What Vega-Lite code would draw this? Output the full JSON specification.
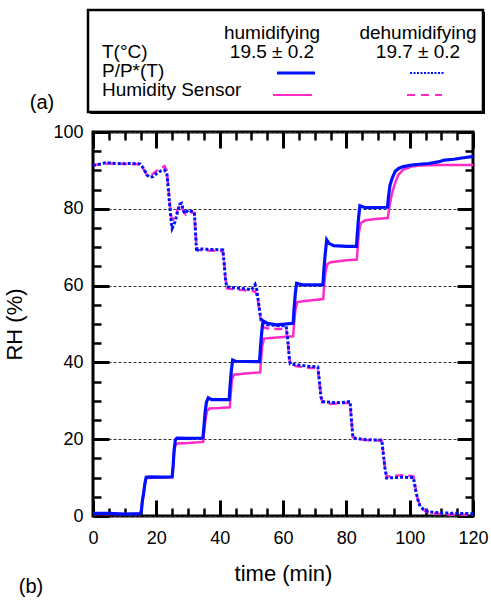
{
  "$schema": "https://vega.github.io/schema/vega-lite/v6.json",
  "autosize": {"type": "none"},
  "width": 380,
  "height": 384,
  "padding": {"left": 93, "top": 132, "right": 18, "bottom": 85},
  "background": "white",
  "config": {
    "font": "Liberation Sans",
    "view": {"stroke": "black", "strokeWidth": 3},
    "axis": {"labelFont": "Liberation Sans", "titleFont": "Liberation Sans", "labelColor": "black", "titleColor": "black", "tickColor": "black", "domain": false, "grid": false}
  },
  "datasets": {
    "curves": [
      {"s":"hum_P","t":0,"rh":0.7},{"s":"hum_P","t":5,"rh":0.7},{"s":"hum_P","t":10,"rh":0.5},{"s":"hum_P","t":15,"rh":0.6},{"s":"hum_P","t":15.3,"rh":1.5},{"s":"hum_P","t":15.6,"rh":4},{"s":"hum_P","t":16,"rh":6},{"s":"hum_P","t":16.4,"rh":8.5},{"s":"hum_P","t":16.8,"rh":10.1},{"s":"hum_P","t":18,"rh":10.2},{"s":"hum_P","t":22,"rh":10.1},{"s":"hum_P","t":25,"rh":10.2},{"s":"hum_P","t":25.3,"rh":13},{"s":"hum_P","t":25.6,"rh":17},{"s":"hum_P","t":26,"rh":19.8},{"s":"hum_P","t":26.5,"rh":20.3},{"s":"hum_P","t":30,"rh":20.2},{"s":"hum_P","t":34.7,"rh":20.3},{"s":"hum_P","t":35,"rh":23},{"s":"hum_P","t":35.4,"rh":27},{"s":"hum_P","t":35.8,"rh":29.5},{"s":"hum_P","t":36.4,"rh":30.8},{"s":"hum_P","t":37.5,"rh":30.3},{"s":"hum_P","t":43,"rh":30.3},{"s":"hum_P","t":43.3,"rh":34},{"s":"hum_P","t":43.7,"rh":38},{"s":"hum_P","t":44.1,"rh":40.6},{"s":"hum_P","t":45,"rh":40.3},{"s":"hum_P","t":52.6,"rh":40.2},{"s":"hum_P","t":52.9,"rh":44},{"s":"hum_P","t":53.3,"rh":48},{"s":"hum_P","t":53.7,"rh":50.8},{"s":"hum_P","t":55,"rh":50.2},{"s":"hum_P","t":58,"rh":49.8},{"s":"hum_P","t":63.2,"rh":50.2},{"s":"hum_P","t":63.5,"rh":54},{"s":"hum_P","t":63.9,"rh":58},{"s":"hum_P","t":64.3,"rh":60.6},{"s":"hum_P","t":66,"rh":60.2},{"s":"hum_P","t":72.6,"rh":60.2},{"s":"hum_P","t":72.9,"rh":64},{"s":"hum_P","t":73.3,"rh":68},{"s":"hum_P","t":73.8,"rh":71.9},{"s":"hum_P","t":74.5,"rh":71},{"s":"hum_P","t":76,"rh":70.4},{"s":"hum_P","t":80,"rh":70.2},{"s":"hum_P","t":83.2,"rh":70.2},{"s":"hum_P","t":83.5,"rh":74},{"s":"hum_P","t":83.9,"rh":78},{"s":"hum_P","t":84.3,"rh":80.8},{"s":"hum_P","t":86,"rh":80.3},{"s":"hum_P","t":93,"rh":80.4},{"s":"hum_P","t":93.3,"rh":83},{"s":"hum_P","t":93.8,"rh":86.2},{"s":"hum_P","t":94.5,"rh":88},{"s":"hum_P","t":95.4,"rh":89.7},{"s":"hum_P","t":96.5,"rh":90.5},{"s":"hum_P","t":98,"rh":91},{"s":"hum_P","t":100.6,"rh":91.4},{"s":"hum_P","t":103,"rh":91.6},{"s":"hum_P","t":106,"rh":91.8},{"s":"hum_P","t":109,"rh":92.2},{"s":"hum_P","t":111,"rh":92.7},{"s":"hum_P","t":114,"rh":92.9},{"s":"hum_P","t":117,"rh":93.3},{"s":"hum_P","t":119.6,"rh":93.6},{"s":"hum_P","t":120,"rh":93.5},
      {"s":"hum_S","t":0,"rh":0.5},{"s":"hum_S","t":15,"rh":0.5},{"s":"hum_S","t":15.3,"rh":1.5},{"s":"hum_S","t":15.6,"rh":4},{"s":"hum_S","t":16,"rh":6},{"s":"hum_S","t":16.4,"rh":8.5},{"s":"hum_S","t":16.8,"rh":9.9},{"s":"hum_S","t":20,"rh":10},{"s":"hum_S","t":25,"rh":10},{"s":"hum_S","t":25.3,"rh":13},{"s":"hum_S","t":25.6,"rh":16.5},{"s":"hum_S","t":26,"rh":18.5},{"s":"hum_S","t":26.8,"rh":18.9},{"s":"hum_S","t":30,"rh":19},{"s":"hum_S","t":34.8,"rh":19.3},{"s":"hum_S","t":35.1,"rh":22},{"s":"hum_S","t":35.5,"rh":25},{"s":"hum_S","t":36,"rh":27.3},{"s":"hum_S","t":36.8,"rh":28},{"s":"hum_S","t":40,"rh":28.1},{"s":"hum_S","t":43.2,"rh":28.3},{"s":"hum_S","t":43.5,"rh":32},{"s":"hum_S","t":43.9,"rh":35.5},{"s":"hum_S","t":44.5,"rh":36.8},{"s":"hum_S","t":48,"rh":37.1},{"s":"hum_S","t":52.8,"rh":37.4},{"s":"hum_S","t":53.1,"rh":41},{"s":"hum_S","t":53.5,"rh":44.5},{"s":"hum_S","t":54,"rh":46.2},{"s":"hum_S","t":57,"rh":46.4},{"s":"hum_S","t":63.2,"rh":46.8},{"s":"hum_S","t":63.5,"rh":50},{"s":"hum_S","t":63.9,"rh":53.5},{"s":"hum_S","t":64.5,"rh":55.7},{"s":"hum_S","t":67,"rh":56},{"s":"hum_S","t":72.7,"rh":56.5},{"s":"hum_S","t":73,"rh":60},{"s":"hum_S","t":73.4,"rh":63.5},{"s":"hum_S","t":74,"rh":65.6},{"s":"hum_S","t":75,"rh":66.1},{"s":"hum_S","t":80,"rh":66.6},{"s":"hum_S","t":83.3,"rh":66.8},{"s":"hum_S","t":83.6,"rh":70},{"s":"hum_S","t":84,"rh":74},{"s":"hum_S","t":84.6,"rh":76.3},{"s":"hum_S","t":86,"rh":77},{"s":"hum_S","t":90,"rh":77.4},{"s":"hum_S","t":93.1,"rh":77.6},{"s":"hum_S","t":93.5,"rh":80},{"s":"hum_S","t":94.3,"rh":83.6},{"s":"hum_S","t":95.3,"rh":86.5},{"s":"hum_S","t":96.4,"rh":88.8},{"s":"hum_S","t":98,"rh":90.2},{"s":"hum_S","t":100.6,"rh":91},{"s":"hum_S","t":103,"rh":91.3},{"s":"hum_S","t":110,"rh":91.4},{"s":"hum_S","t":120,"rh":91.4},
      {"s":"dehum_P","t":0,"rh":91.3},{"s":"dehum_P","t":2,"rh":91.6},{"s":"dehum_P","t":4,"rh":92},{"s":"dehum_P","t":6,"rh":91.9},{"s":"dehum_P","t":9,"rh":91.7},{"s":"dehum_P","t":12,"rh":91.8},{"s":"dehum_P","t":14.8,"rh":91.7},{"s":"dehum_P","t":16,"rh":90.5},{"s":"dehum_P","t":17,"rh":88.8},{"s":"dehum_P","t":18,"rh":88.2},{"s":"dehum_P","t":19,"rh":88.4},{"s":"dehum_P","t":20.1,"rh":89.2},{"s":"dehum_P","t":21.5,"rh":89.9},{"s":"dehum_P","t":22.5,"rh":90.1},{"s":"dehum_P","t":23.3,"rh":89.4},{"s":"dehum_P","t":23.8,"rh":85},{"s":"dehum_P","t":24.3,"rh":80.1},{"s":"dehum_P","t":24.7,"rh":76.5},{"s":"dehum_P","t":25,"rh":74.9},{"s":"dehum_P","t":25.9,"rh":76.6},{"s":"dehum_P","t":26.8,"rh":79.5},{"s":"dehum_P","t":27.4,"rh":81.2},{"s":"dehum_P","t":28,"rh":81.4},{"s":"dehum_P","t":28.5,"rh":79.6},{"s":"dehum_P","t":29,"rh":78.8},{"s":"dehum_P","t":30.1,"rh":79.7},{"s":"dehum_P","t":31,"rh":79.4},{"s":"dehum_P","t":32,"rh":79.1},{"s":"dehum_P","t":32.3,"rh":75},{"s":"dehum_P","t":32.7,"rh":68.8},{"s":"dehum_P","t":33.2,"rh":69.6},{"s":"dehum_P","t":35,"rh":69.5},{"s":"dehum_P","t":38,"rh":69.4},{"s":"dehum_P","t":41,"rh":69.3},{"s":"dehum_P","t":41.4,"rh":66},{"s":"dehum_P","t":41.8,"rh":62},{"s":"dehum_P","t":42.2,"rh":59.7},{"s":"dehum_P","t":45,"rh":59.4},{"s":"dehum_P","t":48,"rh":59.2},{"s":"dehum_P","t":50.1,"rh":58.9},{"s":"dehum_P","t":51.2,"rh":60.3},{"s":"dehum_P","t":51.7,"rh":59},{"s":"dehum_P","t":52.2,"rh":56},{"s":"dehum_P","t":52.7,"rh":53},{"s":"dehum_P","t":53.2,"rh":50.6},{"s":"dehum_P","t":55,"rh":49.8},{"s":"dehum_P","t":58,"rh":49.6},{"s":"dehum_P","t":61,"rh":49.5},{"s":"dehum_P","t":61.5,"rh":46},{"s":"dehum_P","t":62,"rh":41},{"s":"dehum_P","t":62.3,"rh":39.6},{"s":"dehum_P","t":65,"rh":39.3},{"s":"dehum_P","t":68,"rh":39},{"s":"dehum_P","t":71,"rh":38.8},{"s":"dehum_P","t":71.5,"rh":35},{"s":"dehum_P","t":72,"rh":31},{"s":"dehum_P","t":72.5,"rh":29.8},{"s":"dehum_P","t":75,"rh":29.6},{"s":"dehum_P","t":78,"rh":29.5},{"s":"dehum_P","t":81.2,"rh":29.8},{"s":"dehum_P","t":81.6,"rh":25},{"s":"dehum_P","t":82.1,"rh":20.5},{"s":"dehum_P","t":83,"rh":20.2},{"s":"dehum_P","t":86,"rh":19.9},{"s":"dehum_P","t":89,"rh":19.8},{"s":"dehum_P","t":91.2,"rh":19.8},{"s":"dehum_P","t":91.7,"rh":16},{"s":"dehum_P","t":92.2,"rh":12.5},{"s":"dehum_P","t":92.7,"rh":9.9},{"s":"dehum_P","t":95,"rh":10},{"s":"dehum_P","t":98,"rh":10.1},{"s":"dehum_P","t":101.2,"rh":10},{"s":"dehum_P","t":101.8,"rh":7},{"s":"dehum_P","t":102.5,"rh":4.5},{"s":"dehum_P","t":103.3,"rh":2.4},{"s":"dehum_P","t":105,"rh":1.4},{"s":"dehum_P","t":106,"rh":1.1},{"s":"dehum_P","t":110,"rh":0.8},{"s":"dehum_P","t":115,"rh":0.7},{"s":"dehum_P","t":120,"rh":0.6},
      {"s":"dehum_S","t":0,"rh":91.4},{"s":"dehum_S","t":5,"rh":91.8},{"s":"dehum_S","t":10,"rh":91.7},{"s":"dehum_S","t":14.8,"rh":91.6},{"s":"dehum_S","t":16,"rh":90.2},{"s":"dehum_S","t":17,"rh":88.9},{"s":"dehum_S","t":18,"rh":88.5},{"s":"dehum_S","t":19.5,"rh":89.5},{"s":"dehum_S","t":21,"rh":90.5},{"s":"dehum_S","t":22.6,"rh":91.1},{"s":"dehum_S","t":23.3,"rh":90},{"s":"dehum_S","t":23.8,"rh":86},{"s":"dehum_S","t":24.3,"rh":81},{"s":"dehum_S","t":24.8,"rh":77.5},{"s":"dehum_S","t":25.3,"rh":77.2},{"s":"dehum_S","t":26,"rh":78},{"s":"dehum_S","t":27,"rh":80.4},{"s":"dehum_S","t":28,"rh":81},{"s":"dehum_S","t":28.6,"rh":79.3},{"s":"dehum_S","t":29.3,"rh":78.5},{"s":"dehum_S","t":30.3,"rh":79.3},{"s":"dehum_S","t":32,"rh":78.9},{"s":"dehum_S","t":32.3,"rh":75},{"s":"dehum_S","t":32.8,"rh":69.3},{"s":"dehum_S","t":35,"rh":69.2},{"s":"dehum_S","t":38,"rh":69.1},{"s":"dehum_S","t":41,"rh":69},{"s":"dehum_S","t":41.4,"rh":66},{"s":"dehum_S","t":41.8,"rh":62},{"s":"dehum_S","t":42.3,"rh":59.3},{"s":"dehum_S","t":45,"rh":59},{"s":"dehum_S","t":48,"rh":58.8},{"s":"dehum_S","t":51,"rh":58.5},{"s":"dehum_S","t":51.5,"rh":58},{"s":"dehum_S","t":52.2,"rh":55.5},{"s":"dehum_S","t":52.7,"rh":52.5},{"s":"dehum_S","t":53.3,"rh":49.3},{"s":"dehum_S","t":55,"rh":48.9},{"s":"dehum_S","t":58,"rh":48.7},{"s":"dehum_S","t":61,"rh":48.7},{"s":"dehum_S","t":61.5,"rh":45.5},{"s":"dehum_S","t":62,"rh":41},{"s":"dehum_S","t":62.4,"rh":39.3},{"s":"dehum_S","t":65,"rh":38.9},{"s":"dehum_S","t":68,"rh":38.6},{"s":"dehum_S","t":71,"rh":38.5},{"s":"dehum_S","t":71.5,"rh":35},{"s":"dehum_S","t":72,"rh":31},{"s":"dehum_S","t":72.5,"rh":29.6},{"s":"dehum_S","t":75,"rh":29.2},{"s":"dehum_S","t":78,"rh":29.3},{"s":"dehum_S","t":81.2,"rh":29.5},{"s":"dehum_S","t":81.6,"rh":25},{"s":"dehum_S","t":82.1,"rh":20.5},{"s":"dehum_S","t":83,"rh":20.1},{"s":"dehum_S","t":86,"rh":19.8},{"s":"dehum_S","t":89,"rh":19.7},{"s":"dehum_S","t":91.2,"rh":19.6},{"s":"dehum_S","t":91.7,"rh":16},{"s":"dehum_S","t":92.2,"rh":12.5},{"s":"dehum_S","t":92.8,"rh":10.2},{"s":"dehum_S","t":95,"rh":10.5},{"s":"dehum_S","t":98,"rh":10.6},{"s":"dehum_S","t":101.2,"rh":10.3},{"s":"dehum_S","t":101.8,"rh":7.5},{"s":"dehum_S","t":102.5,"rh":4.5},{"s":"dehum_S","t":103.5,"rh":2.2},{"s":"dehum_S","t":105,"rh":1.2},{"s":"dehum_S","t":108,"rh":0.6},{"s":"dehum_S","t":112,"rh":0.4},{"s":"dehum_S","t":115,"rh":0.3},{"s":"dehum_S","t":120,"rh":0.3}
    ],
    "legend": [
      {"kind":"box","c":1,"r":0,"c2":5,"r2":6},
      {"kind":"head","c":3,"r":1,"txt":"humidifying"},
      {"kind":"head","c":4,"r":1,"txt":"dehumidifying"},
      {"kind":"head","c":3,"r":2,"txt":"19.5 ± 0.2"},
      {"kind":"head","c":4,"r":2,"txt":"19.7 ± 0.2"},
      {"kind":"name","c":2,"r":2,"txt":"T(°C)"},
      {"kind":"name","c":2,"r":3,"txt":"P/P*(T)"},
      {"kind":"name","c":2,"r":4,"txt":"Humidity Sensor"},
      {"kind":"tag","c":0,"r":5,"txt":"(a)"},
      {"kind":"tag","c":-1,"r":7,"txt":"(b)"},
      {"kind":"sample","c":3,"r":3,"s":"hum_P"},
      {"kind":"sample","c":4,"r":3,"s":"dehum_P"},
      {"kind":"sample","c":3,"r":4,"s":"hum_S"},
      {"kind":"sample","c":4,"r":4,"s":"dehum_S"}
    ]
  },
  "layer": [
    {
      "data": {"name": "curves"},
      "encoding": {
        "x": {"field": "t", "type": "quantitative", "scale": {"domain": [0, 120], "nice": false}},
        "y": {"field": "rh", "type": "quantitative", "scale": {"domain": [0, 100], "nice": false}}
      },
      "layer": [
        {
          "transform": [{"filter": "datum.s === 'dehum_S'"}],
          "mark": {"type": "line", "color": "#ff2ac8", "strokeWidth": 2.5, "strokeDash": [8, 5]},
          "encoding": {
            "x": {"field": "t", "type": "quantitative", "axis": {"orient": "bottom", "offset": -16, "values": [0, 20, 40, 60, 80, 100, 120], "tickSize": 16, "tickWidth": 3, "labelFontSize": 18, "labelPadding": 13, "labelFlush": false, "labelOverlap": false, "format": "d", "title": "time (min)", "titleFontSize": 22, "titleFontWeight": "normal", "titlePadding": 16}},
            "y": {"field": "rh", "type": "quantitative", "axis": {"orient": "left", "offset": -16, "values": [0, 20, 40, 60, 80, 100], "tickSize": 16, "tickWidth": 3, "labelFontSize": 18, "labelPadding": 10, "labelFlush": false, "labelOverlap": false, "format": "d", "title": "RH (%)", "titleFontSize": 22, "titleFontWeight": "normal", "titlePadding": 26, "grid": true, "gridDash": [3, 2], "gridColor": "#333333", "gridWidth": 1}}
          }
        },
        {
          "transform": [{"filter": "datum.s === 'hum_S'"}],
          "mark": {"type": "line", "color": "#ff2ac8", "strokeWidth": 2.5},
          "encoding": {
            "x": {"field": "t", "type": "quantitative", "axis": {"orient": "bottom", "offset": -8, "values": [5, 10, 15, 25, 30, 35, 45, 50, 55, 65, 70, 75, 85, 90, 95, 105, 110, 115], "tickSize": 8, "tickWidth": 2.5, "labels": false, "title": null}},
            "y": {"field": "rh", "type": "quantitative", "axis": {"orient": "left", "offset": -8, "values": [5, 10, 15, 25, 30, 35, 45, 50, 55, 65, 70, 75, 85, 90, 95], "tickSize": 8, "tickWidth": 2.5, "labels": false, "title": null}}
          }
        },
        {
          "transform": [{"filter": "datum.s === 'dehum_P'"}],
          "mark": {"type": "line", "color": "#0010ff", "strokeWidth": 3, "strokeDash": [3, 2]},
          "encoding": {
            "x": {"field": "t", "type": "quantitative", "axis": {"orient": "top", "offset": -16, "values": [0, 20, 40, 60, 80, 100, 120], "tickSize": 16, "tickWidth": 3, "labels": false, "title": null}},
            "y": {"field": "rh", "type": "quantitative", "axis": {"orient": "right", "offset": -16, "values": [0, 20, 40, 60, 80, 100], "tickSize": 16, "tickWidth": 3, "labels": false, "title": null}}
          }
        },
        {
          "transform": [{"filter": "datum.s === 'hum_P'"}],
          "mark": {"type": "line", "color": "#0010ff", "strokeWidth": 3.2},
          "encoding": {
            "x": {"field": "t", "type": "quantitative", "axis": {"orient": "top", "offset": -8, "values": [5, 10, 15, 25, 30, 35, 45, 50, 55, 65, 70, 75, 85, 90, 95, 105, 110, 115], "tickSize": 8, "tickWidth": 2.5, "labels": false, "title": null}},
            "y": {"field": "rh", "type": "quantitative", "axis": {"orient": "right", "offset": -8, "values": [5, 10, 15, 25, 30, 35, 45, 50, 55, 65, 70, 75, 85, 90, 95], "tickSize": 8, "tickWidth": 2.5, "labels": false, "title": null}}
          }
        }
      ],
      "resolve": {"axis": {"x": "independent", "y": "independent"}}
    },
    {
      "data": {"name": "legend"},
      "encoding": {
        "x": {"field": "c", "type": "quantitative", "scale": {"domain": [-1, 0, 1, 2, 3, 4, 5], "range": [-62, -51, -5, 9, 179, 325, 390], "nice": false, "zero": false}, "axis": null},
        "y": {"field": "r", "type": "quantitative", "scale": {"domain": [0, 1, 2, 3, 4, 5, 6, 7], "range": [-122, -99, -80, -61, -42, -29, -20, 455], "nice": false, "zero": false}, "axis": null}
      },
      "layer": [
        {
          "transform": [{"filter": "datum.kind === 'box'"}],
          "mark": {"type": "rect", "fill": "black", "xOffset": 2, "x2Offset": 2, "yOffset": 2, "y2Offset": 2},
          "encoding": {
            "x2": {"field": "c2"},
            "y2": {"field": "r2"}
          }
        },
        {
          "transform": [{"filter": "datum.kind === 'box'"}],
          "mark": {"type": "rect", "fill": "white", "stroke": "black", "strokeWidth": 2.5},
          "encoding": {
            "x2": {"field": "c2"},
            "y2": {"field": "r2"}
          }
        },
        {
          "transform": [{"filter": "datum.kind === 'head'"}],
          "mark": {"type": "text", "align": "center", "baseline": "middle", "fontSize": 19, "color": "black"},
          "encoding": {"text": {"field": "txt"}}
        },
        {
          "transform": [{"filter": "datum.kind === 'name'"}],
          "mark": {"type": "text", "align": "left", "baseline": "middle", "fontSize": 19, "color": "black"},
          "encoding": {"text": {"field": "txt"}}
        },
        {
          "transform": [{"filter": "datum.kind === 'tag'"}],
          "mark": {"type": "text", "align": "center", "baseline": "middle", "fontSize": 20, "color": "black"},
          "encoding": {"text": {"field": "txt"}}
        },
        {
          "transform": [{"filter": "datum.s === 'hum_P'"}],
          "mark": {"type": "rule", "color": "#0010ff", "strokeWidth": 3, "xOffset": 5, "x2Offset": 43, "yOffset": 2},
          "encoding": {"x2": {"field": "c"}}
        },
        {
          "transform": [{"filter": "datum.s === 'dehum_P'"}],
          "mark": {"type": "rule", "color": "#0010ff", "strokeWidth": 2, "strokeDash": [2, 1.5], "xOffset": -8, "x2Offset": 27, "yOffset": 2},
          "encoding": {"x2": {"field": "c"}}
        },
        {
          "transform": [{"filter": "datum.s === 'hum_S'"}],
          "mark": {"type": "rule", "color": "#ff2ac8", "strokeWidth": 2, "xOffset": 1, "x2Offset": 40, "yOffset": 5},
          "encoding": {"x2": {"field": "c"}}
        },
        {
          "transform": [{"filter": "datum.s === 'dehum_S'"}],
          "mark": {"type": "rule", "color": "#ff2ac8", "strokeWidth": 2, "strokeDash": [8, 6], "xOffset": -11, "x2Offset": 24, "yOffset": 5},
          "encoding": {"x2": {"field": "c"}}
        }
      ]
    }
  ],
  "resolve": {"scale": {"x": "independent", "y": "independent"}, "axis": {"x": "independent", "y": "independent"}}
}
